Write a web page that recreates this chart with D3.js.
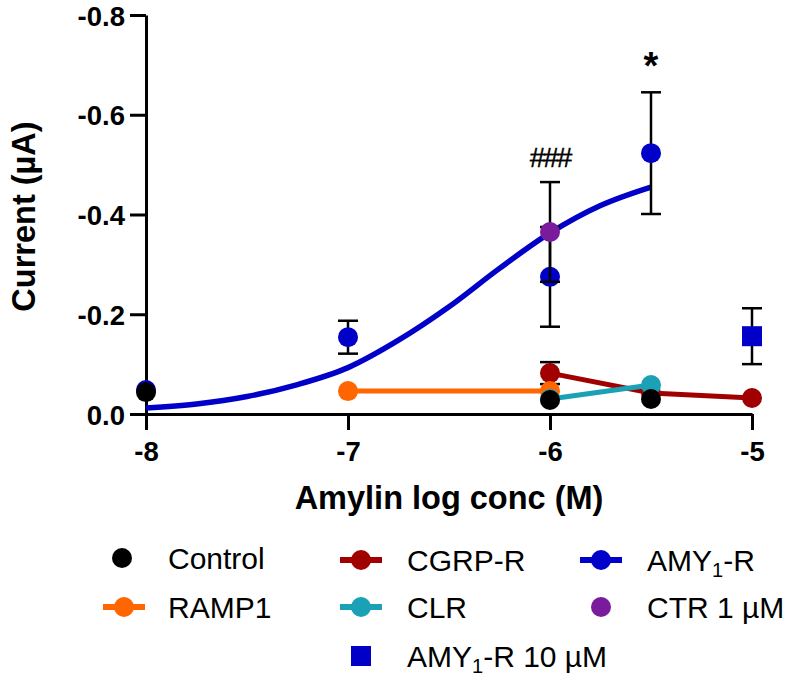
<!DOCTYPE html>
<html>
<head>
<meta charset="utf-8">
<script src="https://cdn.jsdelivr.net/npm/d3@7"></script>
<style>
  html, body { margin: 0; padding: 0; background: #fff; }
  svg { display: block; font-family: "Liberation Sans", Arial, sans-serif; }
</style>
</head>
<body>
<svg id="chart" width="786" height="679"></svg>
<script>
// ---------- data ----------
const xTicks = [-8, -7, -6, -5];
const xTickLabels = ["-8", "-7", "-6", "-5"];
const yTicks = [0, -0.2, -0.4, -0.6, -0.8];
const yTickLabels = ["0.0", "-0.2", "-0.4", "-0.6", "-0.8"];

const controlX = [-8, -6, -5.5];
const controlY = [-0.044, -0.028, -0.030];

const ramp1X = [-7, -6];
const ramp1Y = [-0.046, -0.046];

const cgrpX = [-6, -5.5, -5];
const cgrpY = [-0.082, -0.042, -0.032];
const cgrpErr = [0.022, 0, 0];

const clrX = [-6, -5.5];
const clrY = [-0.030, -0.058];

const amyX = [-8, -7, -6, -5.5];
const amyY = [-0.048, -0.154, -0.275, -0.523];
const amyErr = [0, 0.033, 0.100, 0.122];

// fitted curve
const amyFitX = [-8, -7.75, -7.5, -7.25, -7, -6.75, -6.5, -6.25, -6, -5.75, -5.5];
const amyFitY = [-0.012, -0.020, -0.035, -0.059, -0.093, -0.148, -0.215, -0.292, -0.363, -0.418, -0.455];

const ctrX = [-6];
const ctrY = [-0.365];
const ctrErr = [0.100];

const amy10X = [-5];
const amy10Y = [-0.156];
const amy10Err = [0.056];

const colors = {
  control: "#000000",
  ramp1: "#ff6600",
  cgrp: "#a00000",
  clr: "#1ba1b6",
  amy: "#0000c8",
  ctr: "#7a1a9c"
};

// ---------- layout ----------
const svg = d3.select("#chart");
const x = d3.scaleLinear().domain([-8, -5]).range([146, 752]);
const y = d3.scaleLinear().domain([0, -0.8]).range([414, 15]);

const zip = (xs, ys) => xs.map((v, i) => [v, ys[i]]);

// axes
const yAxis = d3.axisLeft(y).tickValues(yTicks).tickSize(16).tickSizeOuter(0).tickPadding(5)
  .tickFormat((d, i) => yTickLabels[i]);
const xAxis = d3.axisBottom(x).tickValues(xTicks).tickSize(16).tickSizeOuter(0).tickPadding(11)
  .tickFormat((d, i) => xTickLabels[i]);

const gy = svg.append("g").attr("transform", `translate(${x(-8)},0)`).call(yAxis);
const gx = svg.append("g").attr("transform", `translate(0,${y(0)})`).call(xAxis);
[gx, gy].forEach(g => {
  g.select(".domain").attr("stroke", "#000").attr("stroke-width", 3);
  g.selectAll(".tick line").attr("stroke", "#000").attr("stroke-width", 3);
  g.selectAll(".tick text").attr("fill", "#000").attr("font-size", 27.5).attr("font-weight", "bold")
    .attr("font-family", "'Liberation Sans', Arial, sans-serif");
});
gy.selectAll(".tick text").attr("dy", "0.37em");

// axis titles
svg.append("text").attr("x", (x(-8) + x(-5)) / 2).attr("y", 509)
  .attr("text-anchor", "middle").attr("font-size", 32.5).attr("font-weight", "bold")
  .text("Amylin log conc (M)");
svg.append("text").attr("transform", `translate(35,${(y(0) + y(-0.8)) / 2 + 2}) rotate(-90)`)
  .attr("text-anchor", "middle").attr("font-size", 32.5).attr("font-weight", "bold")
  .text("Current (µA)");

const R = 10;

function drawLine(xs, ys, color, w, curve) {
  const gen = d3.line().x(d => x(d[0])).y(d => y(d[1])).curve(curve || d3.curveLinear);
  svg.append("path").datum(zip(xs, ys))
    .attr("fill", "none").attr("stroke", color).attr("stroke-width", w)
    .attr("d", gen);
}
function drawErr(xs, ys, errs) {
  const g = svg.append("g").attr("stroke", "#000").attr("stroke-width", 2.5);
  xs.forEach((xv, i) => {
    const e = errs[i];
    if (!e) return;
    const top = y(ys[i] - e), bot = y(ys[i] + e), cx = x(xv);
    g.append("line").attr("x1", cx).attr("x2", cx).attr("y1", top).attr("y2", bot);
    g.append("line").attr("x1", cx - 10).attr("x2", cx + 10).attr("y1", top).attr("y2", top);
    g.append("line").attr("x1", cx - 10).attr("x2", cx + 10).attr("y1", bot).attr("y2", bot);
  });
}
function drawDots(xs, ys, color) {
  svg.append("g").selectAll("circle").data(zip(xs, ys)).join("circle")
    .attr("cx", d => x(d[0])).attr("cy", d => y(d[1])).attr("r", R).attr("fill", color);
}
function drawSquares(xs, ys, color) {
  svg.append("g").selectAll("rect").data(zip(xs, ys)).join("rect")
    .attr("x", d => x(d[0]) - 10).attr("y", d => y(d[1]) - 10)
    .attr("width", 20).attr("height", 20).attr("fill", color);
}

// lines
drawLine(ramp1X, ramp1Y, colors.ramp1, 5);
drawLine(cgrpX, cgrpY, colors.cgrp, 5);
drawLine(clrX, clrY, colors.clr, 5);
drawLine(amyFitX, amyFitY, colors.amy, 5.5, d3.curveMonotoneX);

// series markers
drawErr(cgrpX, cgrpY, cgrpErr);
drawDots(cgrpX, cgrpY, colors.cgrp);
drawDots(ramp1X, ramp1Y, colors.ramp1);
drawDots(clrX, clrY, colors.clr);
drawErr(amyX, amyY, amyErr);
drawDots(amyX, amyY, colors.amy);
drawErr(ctrX, ctrY, ctrErr);
drawDots(ctrX, ctrY, colors.ctr);
drawErr(amy10X, amy10Y, amy10Err);
drawSquares(amy10X, amy10Y, colors.amy);
drawDots(controlX, controlY, colors.control);

// annotations
svg.append("text").attr("x", x(-6)).attr("y", 167).attr("text-anchor", "middle")
  .attr("font-size", 28).attr("letter-spacing", -2).attr("stroke", "#000").attr("stroke-width", 0.4)
  .text("###");
svg.append("text").attr("x", x(-5.5)).attr("y", 79).attr("text-anchor", "middle")
  .attr("font-size", 38).attr("font-weight", "bold").text("*");

// legend
const legend = [
  { label: "Control", color: colors.control, type: "dot", sx: 122, tx: 168, ry: 558 },
  { label: "CGRP-R", color: colors.cgrp, type: "line", sx: 361, tx: 407, ry: 560 },
  { label: "AMY", sub: "1", rest: "-R", color: colors.amy, type: "line", sx: 601, tx: 647, ry: 560 },
  { label: "RAMP1", color: colors.ramp1, type: "line", sx: 124, tx: 168, ry: 607 },
  { label: "CLR", color: colors.clr, type: "line", sx: 361, tx: 407, ry: 607 },
  { label: "CTR 1 µM", color: colors.ctr, type: "dot", sx: 601, tx: 647, ry: 607 },
  { label: "AMY", sub: "1", rest: "-R 10 µM", color: colors.amy, type: "square", sx: 361, tx: 407, ry: 656 }
];
const lg = svg.append("g");
legend.forEach(d => {
  if (d.type === "line") {
    lg.append("line").attr("x1", d.sx - 21).attr("x2", d.sx + 21).attr("y1", d.ry).attr("y2", d.ry)
      .attr("stroke", d.color).attr("stroke-width", 6);
  }
  if (d.type === "line" || d.type === "dot") {
    lg.append("circle").attr("cx", d.sx).attr("cy", d.ry).attr("r", 10).attr("fill", d.color);
  } else {
    lg.append("rect").attr("x", d.sx - 10).attr("y", d.ry - 10).attr("width", 20).attr("height", 20).attr("fill", d.color);
  }
  const t = lg.append("text").attr("x", d.tx).attr("y", d.ry + 11).attr("font-size", 30).attr("fill", "#000");
  t.append("tspan").text(d.label);
  if (d.sub) {
    t.append("tspan").attr("font-size", 20).attr("dy", 6).text(d.sub);
    t.append("tspan").attr("dy", -6).text(d.rest);
  }
});
</script>
</body>
</html>
